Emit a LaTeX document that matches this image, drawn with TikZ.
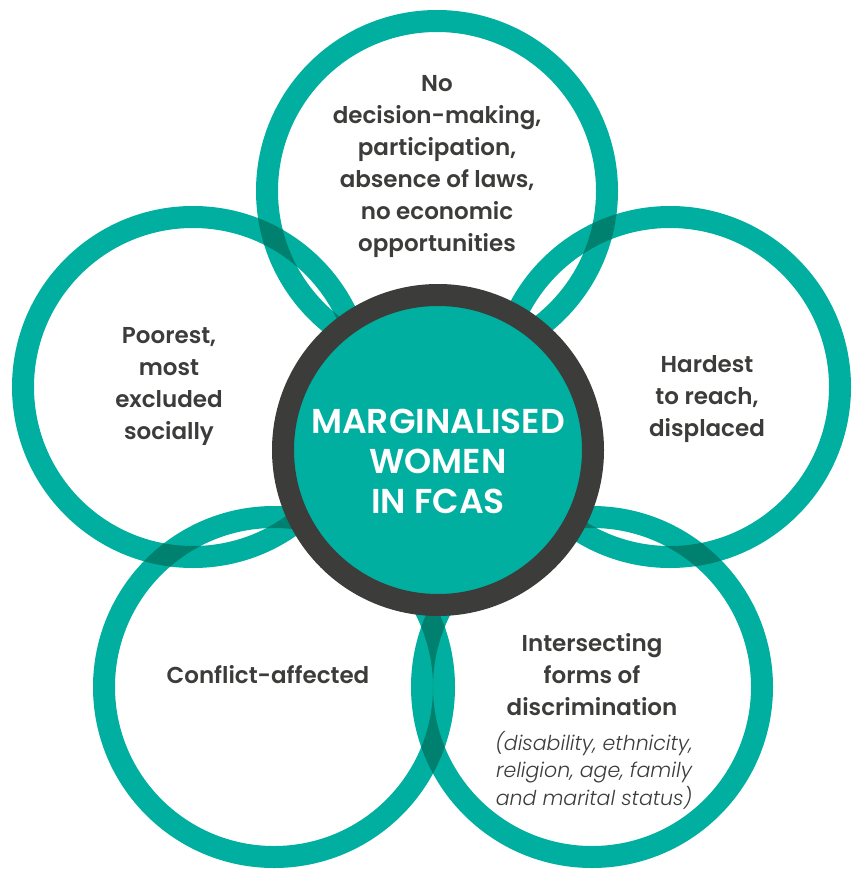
\documentclass[tikz,border=0pt]{standalone}
\usepackage{fontspec}
\setmainfont{Poppins}[BoldFont={Poppins SemiBold}]
\newfontfamily\lightit{Poppins Light Italic}
\definecolor{ring}{HTML}{00AF9F}
\definecolor{ringdark}{HTML}{00806F}
\definecolor{ink}{HTML}{3C3C3B}
\tikzset{
  ringline/.style={draw=ring, line width=22pt},
  overlapline/.style={draw=ringdark, line width=22pt},
  label/.style={align=center, text=ink, font=\bfseries\fontsize{23}{32}\selectfont, inner sep=0pt},
  note/.style={align=center, text=ink, font=\lightit\fontsize{20.5}{27.5}\selectfont, inner sep=0pt},
  hub/.style={align=center, text=white, font=\bfseries\fontsize{34.5}{40}\selectfont, inner sep=0pt}
}
\newcommand{\ringR}{170}
\newcommand{\ringIn}{159}
\newcommand{\ringOut}{181}
\begin{document}
\begin{tikzpicture}[x=1pt,y=-1pt]
\useasboundingbox (0,0) rectangle (854,869);
% ring centres
\coordinate (cT) at (437,191);
\coordinate (cL) at (193,387);
\coordinate (cR) at (670,387);
\coordinate (cBL) at (274,687);
\coordinate (cBR) at (592,687);
\coordinate (cC) at (438,450);
% outer rings
\foreach \c in {cT,cL,cR,cBL,cBR}
  \draw[ringline] (\c) circle[radius=\ringR];
% darker crossings where two rings overlap
\foreach \a/\b in {cT/cL, cT/cR, cL/cBL, cR/cBR, cBL/cBR}{
  \begin{scope}[even odd rule]
    \clip (\a) circle[radius=\ringOut] (\a) circle[radius=\ringIn];
    \draw[overlapline] (\b) circle[radius=\ringR];
  \end{scope}
}
% central hub
\draw[draw=ink, fill=ring, line width=22pt] (cC) circle[radius=155];
\node[hub] (hubtext) at (438,461) {MARGINALISED\\WOMEN\\IN FCAS};
% ring labels
\node[label] (top) at (437,166) {No\\decision-making,\\participation,\\absence of laws,\\no economic\\opportunities};
\node[label] (left) at (169,386) {Poorest,\\most\\excluded\\socially};
\node[label] (right) at (707,399) {Hardest\\to reach,\\displaced};
\node[label] (bl) at (268,675) {Conflict-affected};
\node[label] (br) at (592,675) {Intersecting\\forms of\\discrimination};
\node[note] (brnote) at (594,770) {(disability, ethnicity,\\religion, age, family\\and marital status)};
\end{tikzpicture}
\end{document}
